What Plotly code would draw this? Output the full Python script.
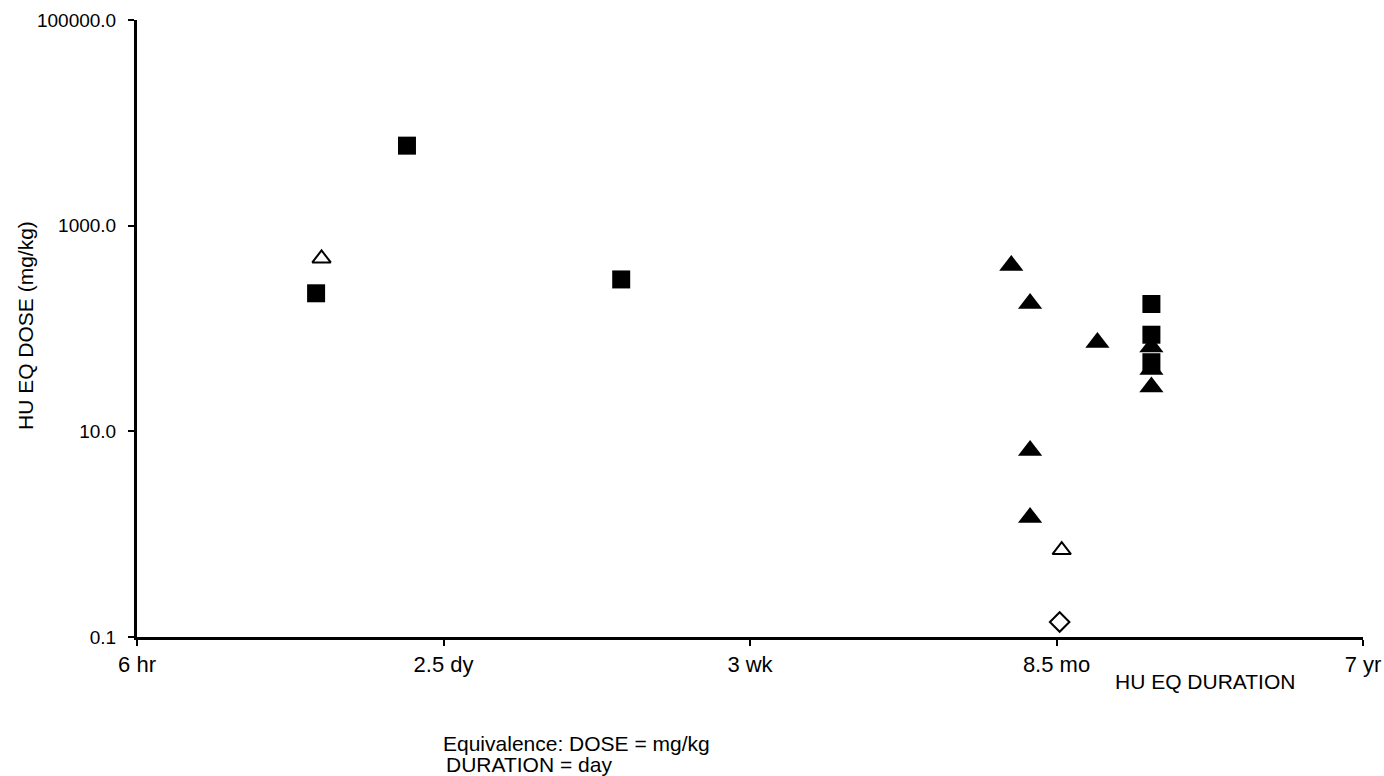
import plotly.graph_objects as go

# Duration in days (log axis), dose in mg/kg (log axis)
sq_duration = [0.96, 1.9, 9.5, 510, 510, 510]
sq_dose = [220, 6000, 300, 173, 87, 47]

tri_duration = [178, 205, 340, 205, 205, 510, 510, 510]
tri_dose = [410, 175, 73, 6.5, 1.45, 66, 40, 27]

open_tri_duration = [1.0, 260]
open_tri_dose = [480, 0.70]

diamond_duration = [256]
diamond_dose = [0.14]

x_tick_vals = [0.25, 2.5, 25, 250, 2500]
x_tick_text = ["6 hr", "2.5 dy", "3 wk", "8.5 mo", "7 yr"]
y_tick_vals = [0.1, 10, 1000, 100000]
y_tick_text = ["0.1", "10.0", "1000.0", "100000.0"]

fig = go.Figure()
fig.add_trace(go.Scatter(x=sq_duration, y=sq_dose, mode="markers",
                         marker=dict(symbol="square", size=18, color="black",
                                     line=dict(width=0))))
fig.add_trace(go.Scatter(x=tri_duration, y=tri_dose, mode="markers",
                         marker=dict(symbol="triangle-up", size=21, color="black",
                                     line=dict(width=0))))
fig.add_trace(go.Scatter(x=open_tri_duration, y=open_tri_dose, mode="markers",
                         marker=dict(symbol="triangle-up-open", size=16, color="black",
                                     line=dict(width=2, color="black"))))
fig.add_trace(go.Scatter(x=diamond_duration, y=diamond_dose, mode="markers",
                         marker=dict(symbol="diamond-open", size=15, color="black",
                                     line=dict(width=2, color="black"))))

FAM = "Liberation Sans, Arial, sans-serif"
font = dict(family=FAM, size=21, color="black")
xtickfont = dict(family=FAM, size=22, color="black")
ytickfont = dict(family=FAM, size=19, color="black")

PL, PR, PT, PB = 137, 1363, 20, 637   # plot area in page pixels
PW, PH = PR - PL, PB - PT

def px(x):
    return (x - PL) / PW

def py(y):
    return (PB - y) / PH

fig.update_layout(
    template="none",
    width=1384, height=776,
    margin=dict(l=PL, r=1384 - PR, t=PT, b=776 - PB, autoexpand=False),
    paper_bgcolor="white", plot_bgcolor="white",
    showlegend=False,
    font=font,
    xaxis=dict(type="log", range=[-0.60206, 3.39794], automargin=False,
               tickvals=x_tick_vals, ticktext=x_tick_text,
               showgrid=False, zeroline=False,
               showline=True, linecolor="black", linewidth=3,
               ticks="outside", ticklen=6, tickwidth=2, tickcolor="black",
               tickfont=xtickfont),
    yaxis=dict(type="log", range=[-1, 5], automargin=False,
               tickvals=y_tick_vals, ticktext=y_tick_text,
               showgrid=False, zeroline=False,
               showline=True, linecolor="black", linewidth=3,
               ticks="outside", ticklen=6, tickwidth=2, tickcolor="black",
               ticklabelstandoff=8,
               tickfont=ytickfont),
    annotations=[
        dict(text="HU EQ DOSE (mg/kg)", xref="paper", yref="paper",
             x=px(25), y=py(325), textangle=-90,
             showarrow=False, font=font, xanchor="center", yanchor="middle"),
        dict(text="HU EQ DURATION", xref="paper", yref="paper",
             x=px(1205), y=py(681),
             showarrow=False, font=font, xanchor="center", yanchor="middle"),
        dict(text="Equivalence: DOSE = mg/kg", xref="paper", yref="paper",
             x=px(441), y=py(743),
             showarrow=False, font=font, xanchor="left", yanchor="middle"),
        dict(text="DURATION = day", xref="paper", yref="paper",
             x=px(444), y=py(765),
             showarrow=False, font=font, xanchor="left", yanchor="middle"),
    ],
)

fig.write_html("out.html",
               config={"displayModeBar": False},
               post_script="document.body.style.margin='0';document.body.style.overflow='hidden';")
